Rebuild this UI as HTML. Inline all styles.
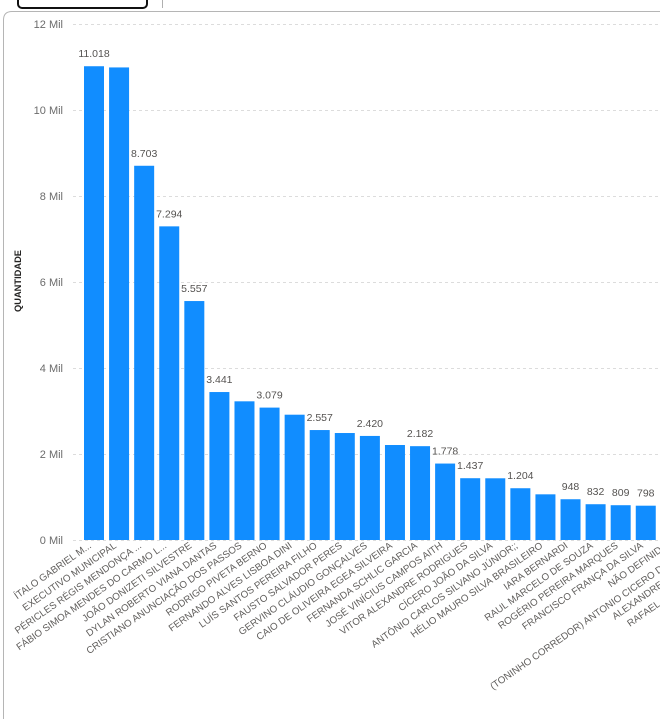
<!DOCTYPE html>
<html>
<head>
<meta charset="utf-8">
<style>
  html, body { margin: 0; padding: 0; background: #fff; }
  body { width: 660px; height: 719px; overflow: hidden; }
  svg { display: block; }
  .tick { font-family: "Liberation Sans", sans-serif; font-size: 11px; fill: #6b6b6b; }
  .val { font-family: "Liberation Sans", sans-serif; font-size: 10.5px; fill: #555351; }
  .cat { font-family: "Liberation Sans", sans-serif; font-size: 9.8px; fill: #605E5C; }
  .ttl { font-family: "Liberation Sans", sans-serif; font-size: 9.3px; font-weight: bold; fill: #252423; }
</style>
</head>
<body>
<svg width="660" height="719" viewBox="0 0 660 719" xmlns="http://www.w3.org/2000/svg">
  <rect x="0" y="0" width="660" height="719" fill="#ffffff"/>

  <!-- top-left button & divider -->
  <rect x="18" y="-10" width="129" height="18" rx="4" ry="4" fill="#fff" stroke="#111" stroke-width="2"/>
  <line x1="162.5" y1="0" x2="162.5" y2="8" stroke="#b0b0b0" stroke-width="1"/>

  <!-- visual frame -->
  <path d="M3.5 719 L3.5 20 Q3.5 11.5 12 11.5 L660 11.5" fill="none" stroke="#b5b5b5" stroke-width="1"/>

  <!-- gridlines -->
  <g stroke="#dcdcdc" stroke-width="1" stroke-dasharray="3,3">
    <line x1="73" y1="24.5" x2="660" y2="24.5"/>
    <line x1="73" y1="110.5" x2="660" y2="110.5"/>
    <line x1="73" y1="196.5" x2="660" y2="196.5"/>
    <line x1="73" y1="282.5" x2="660" y2="282.5"/>
    <line x1="73" y1="368.5" x2="660" y2="368.5"/>
    <line x1="73" y1="454.5" x2="660" y2="454.5"/>
    <line x1="73" y1="540.5" x2="660" y2="540.5"/>
  </g>

  <!-- y tick labels -->
  <g class="tick" text-anchor="end">
    <text x="63" y="28">12 Mil</text>
    <text x="63" y="114">10 Mil</text>
    <text x="63" y="200">8 Mil</text>
    <text x="63" y="286">6 Mil</text>
    <text x="63" y="372">4 Mil</text>
    <text x="63" y="458">2 Mil</text>
    <text x="63" y="544">0 Mil</text>
  </g>

  <!-- y axis title -->
  <text class="ttl" text-anchor="middle" transform="translate(21,281) rotate(-90)">QUANTIDADE</text>

  <!-- bars -->
  <g fill="#118DFF">
    <rect x="84" y="66.23" width="20" height="473.77"/>
    <rect x="109.08" y="67.43" width="20" height="472.57"/>
    <rect x="134.16" y="165.77" width="20" height="374.23"/>
    <rect x="159.24" y="226.36" width="20" height="313.64"/>
    <rect x="184.32" y="301.05" width="20" height="238.95"/>
    <rect x="209.4" y="392.04" width="20" height="147.96"/>
    <rect x="234.48" y="401.32" width="20" height="138.68"/>
    <rect x="259.56" y="407.6" width="20" height="132.4"/>
    <rect x="284.64" y="414.7" width="20" height="125.3"/>
    <rect x="309.72" y="430.05" width="20" height="109.95"/>
    <rect x="334.8" y="433.02" width="20" height="106.98"/>
    <rect x="359.88" y="435.94" width="20" height="104.06"/>
    <rect x="384.96" y="445.01" width="20" height="94.99"/>
    <rect x="410.04" y="446.17" width="20" height="93.83"/>
    <rect x="435.12" y="463.55" width="20" height="76.45"/>
    <rect x="460.2" y="478.21" width="20" height="61.79"/>
    <rect x="485.28" y="478.29" width="20" height="61.71"/>
    <rect x="510.36" y="488.23" width="20" height="51.77"/>
    <rect x="535.44" y="494.33" width="20" height="45.67"/>
    <rect x="560.52" y="499.24" width="20" height="40.76"/>
    <rect x="585.6" y="504.22" width="20" height="35.78"/>
    <rect x="610.68" y="505.21" width="20" height="34.79"/>
    <rect x="635.76" y="505.69" width="20" height="34.31"/>
  </g>

  <!-- value labels -->
  <g class="val" text-anchor="middle">
    <text x="94" y="57.2">11.018</text>
    <text x="144.16" y="156.8">8.703</text>
    <text x="169.24" y="217.4">7.294</text>
    <text x="194.32" y="292">5.557</text>
    <text x="219.4" y="383">3.441</text>
    <text x="269.56" y="398.6">3.079</text>
    <text x="319.72" y="421">2.557</text>
    <text x="369.88" y="427">2.420</text>
    <text x="420.04" y="437.2">2.182</text>
    <text x="445.12" y="454.5">1.778</text>
    <text x="470.2" y="469.2">1.437</text>
    <text x="520.36" y="479.2">1.204</text>
    <text x="570.52" y="490.2">948</text>
    <text x="595.6" y="495.2">832</text>
    <text x="620.68" y="496.2">809</text>
    <text x="645.76" y="496.7">798</text>
  </g>

  <!-- category labels -->
  <g class="cat" text-anchor="end">
    <text transform="translate(92,547) rotate(-35)">ÍTALO GABRIEL M...</text>
    <text transform="translate(117.08,547) rotate(-35)">EXECUTIVO MUNICIPAL</text>
    <text transform="translate(142.16,547) rotate(-35)">PÉRICLES RÉGIS MENDONÇA ...</text>
    <text transform="translate(167.24,547) rotate(-35)">FÁBIO SIMOA MENDES DO CARMO L...</text>
    <text transform="translate(192.32,547) rotate(-35)">JOÃO DONIZETI SILVESTRE</text>
    <text transform="translate(217.4,547) rotate(-35)">DYLAN ROBERTO VIANA DANTAS</text>
    <text transform="translate(242.48,547) rotate(-35)">CRISTIANO ANUNCIAÇÃO DOS PASSOS</text>
    <text transform="translate(267.56,547) rotate(-35)">RODRIGO PIVETA BERNO</text>
    <text transform="translate(292.64,547) rotate(-35)">FERNANDO ALVES LISBOA DINI</text>
    <text transform="translate(317.72,547) rotate(-35)">LUÍS SANTOS PEREIRA FILHO</text>
    <text transform="translate(342.8,547) rotate(-35)">FAUSTO SALVADOR PERES</text>
    <text transform="translate(367.88,547) rotate(-35)">GERVINO CLÁUDIO GONÇALVES</text>
    <text transform="translate(392.96,547) rotate(-35)">CAIO DE OLIVEIRA EGEA SILVEIRA</text>
    <text transform="translate(418.04,547) rotate(-35)">FERNANDA SCHLIC GARCIA</text>
    <text transform="translate(443.12,547) rotate(-35)">JOSÉ VINÍCIUS CAMPOS AITH</text>
    <text transform="translate(468.2,547) rotate(-35)">VITOR ALEXANDRE RODRIGUES</text>
    <text transform="translate(493.28,547) rotate(-35)">CÍCERO JOÃO DA SILVA</text>
    <text transform="translate(518.36,547) rotate(-35)">ANTÔNIO CARLOS SILVANO JÚNIOR;;</text>
    <text transform="translate(543.44,547) rotate(-35)">HÉLIO MAURO SILVA BRASILEIRO</text>
    <text transform="translate(568.52,547) rotate(-35)">IARA BERNARDI</text>
    <text transform="translate(593.6,547) rotate(-35)">RAUL MARCELO DE SOUZA</text>
    <text transform="translate(618.68,547) rotate(-35)">ROGÉRIO PEREIRA MARQUES</text>
    <text transform="translate(643.76,547) rotate(-35)">FRANCISCO FRANÇA DA SILVA</text>
    <text transform="translate(668.84,547) rotate(-35)">NÃO DEFINIDO</text>
  </g>
  <g class="cat" text-anchor="start">
    <text transform="translate(493,690) rotate(-35)">(TONINHO CORREDOR) ANTONIO CICERO DE ...</text>
    <text transform="translate(615,620) rotate(-35)">ALEXANDRE ROBERTO ...</text>
    <text transform="translate(630,627) rotate(-35)">RAFAEL SOUZA ...</text>
  </g>
</svg>
</body>
</html>
